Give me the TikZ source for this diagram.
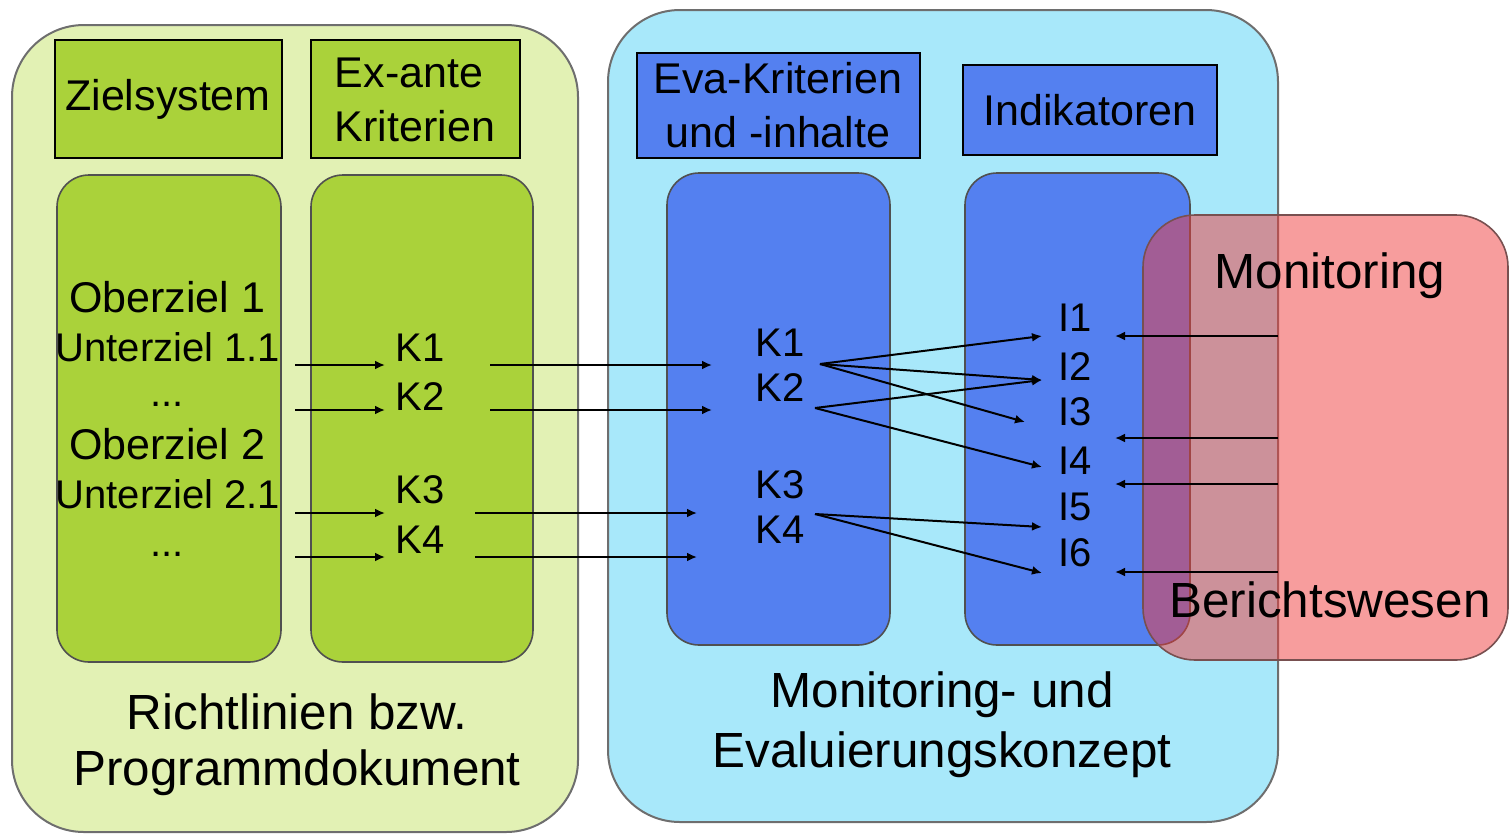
\documentclass[tikz,border=0pt]{standalone}
\usepackage{fontspec}
\setmainfont{Liberation Sans}
\usetikzlibrary{arrows.meta}

\definecolor{gruenhell}{RGB}{226,241,180}
\definecolor{gruen}{RGB}{170,210,58}
\definecolor{blauhell}{RGB}{168,232,250}
\definecolor{blau}{RGB}{84,128,240}
\definecolor{rot}{RGB}{240,60,60}

\tikzset{
  aussen/.style={draw={rgb,255:red,110;green,110;blue,110}, line width=1pt, rounded corners=36pt},
  innen/.style={draw={rgb,255:red,80;green,80;blue,80}, line width=0.8pt, rounded corners=16pt},
  kopf/.style={draw=black, line width=1.2pt},
  txt/.style={font=\fontsize{21.5}{25}\selectfont, text=black, inner sep=0pt},
  gross/.style={font=\fontsize{24.7}{29}\selectfont, text=black, inner sep=0pt},
  klein/.style={font=\fontsize{20}{24}\selectfont, text=black, inner sep=0pt},
  pfeil/.style={line width=1pt, -{Latex[length=5pt,width=4.5pt]}}
}

\begin{document}
\begin{tikzpicture}[x=0.5pt,y=0.5pt,yscale=-1]
\path[use as bounding box] (0,0) rectangle (1510,836);

%Shape: Rounded Rect (Richtlinien)
\draw [aussen, fill=gruenhell] (12,25) rectangle (578,832);
%Shape: Rounded Rect (inner green)
\draw [innen, fill=gruen] (57,175) rectangle (281,662);
\draw [innen, fill=gruen] (311,175) rectangle (533,662);
%Shape: Rectangle (headers green)
\draw [kopf, fill=gruen] (55,40) rectangle (282,158);
\draw [kopf, fill=gruen] (311,40) rectangle (520,158);

%Shape: Rounded Rect (Konzept)
\draw [aussen, fill=blauhell] (608,10) rectangle (1278,822);
%Shape: Rounded Rect (inner blue)
\draw [innen, fill=blau] (667,173) rectangle (890,645);
\draw [innen, fill=blau] (965,173) rectangle (1190,645);
%Shape: Rectangle (headers blue)
\draw [kopf, fill=blau] (637,53) rectangle (920,158);
\draw [kopf, fill=blau] (963,65) rectangle (1217,155);

% Text Node
\node [txt] (zielsystem) at (168,99) {Zielsystem};
\node [txt, align=left] (exante) at (415,100) {Ex-ante\\[2pt]Kriterien};
\node [txt, align=center] (evakrit) at (778,105) {Eva-Kriterien\\[2pt]und -inhalte};
\node [txt] (indikatoren) at (1090,110) {Indikatoren};

\node [txt] (ober1) at (167,297) {Oberziel 1};
\node [klein] (unter1) at (168,347) {Unterziel 1.1};
\node [klein] (dots1) at (167,404) {...};
\node [txt] (ober2) at (167,444) {Oberziel 2};
\node [klein] (unter2) at (168,494) {Unterziel 2.1};
\node [klein] (dots2) at (167,554) {...};

\node [klein] (ka1) at (420,348) {K1};
\node [klein] (ka2) at (420,397) {K2};
\node [klein] (ka3) at (420,490) {K3};
\node [klein] (ka4) at (420,540) {K4};

\node [klein] (kb1) at (780,343) {K1};
\node [klein] (kb2) at (780,388) {K2};
\node [klein] (kb3) at (780,485) {K3};
\node [klein] (kb4) at (780,530) {K4};

\node [klein] (i1) at (1075,318) {I1};
\node [klein] (i2) at (1075,367) {I2};
\node [klein] (i3) at (1075,412) {I3};
\node [klein] (i4) at (1075,461) {I4};
\node [klein] (i5) at (1075,507) {I5};
\node [klein] (i6) at (1075,553) {I6};

\node [gross, align=center] (richtlinien) at (297,745) {Richtlinien bzw.\\[-1pt]Programmdokument};
\node [gross, align=center] (konzept) at (942,725) {Monitoring- und\\[1pt]Evaluierungskonzept};

%Arrow ends
\coordinate (z1) at (295,365); \coordinate (z2) at (295,410);
\coordinate (z3) at (295,513); \coordinate (z4) at (295,557);
\coordinate (a1) at (385,365); \coordinate (a2) at (385,410);
\coordinate (a3) at (385,513); \coordinate (a4) at (385,557);
\coordinate (b1) at (490,365); \coordinate (b2) at (490,410);
\coordinate (b3) at (475,513); \coordinate (b4) at (475,557);
\coordinate (c1) at (712,365); \coordinate (c2) at (712,410);
\coordinate (c3) at (697,513); \coordinate (c4) at (697,557);
\coordinate (d1) at (820,364); \coordinate (d2) at (815,408);
\coordinate (d4) at (815,514);
\coordinate (e1) at (1042,336); \coordinate (e2) at (1042,380);
\coordinate (e3) at (1025,422); \coordinate (e4) at (1042,467);
\coordinate (e5) at (1042,527); \coordinate (e6) at (1042,573);

%Straight Lines
\foreach \n in {1,...,4} {
  \draw [pfeil] (z\n) -- (a\n);
  \draw [pfeil] (b\n) -- (c\n);
}
\draw [pfeil] (d1) -- (e1);
\draw [pfeil] (d1) -- (e2);
\draw [pfeil] (d1) -- (e3);
\draw [pfeil] (d2) -- (e2);
\draw [pfeil] (d2) -- (e4);
\draw [pfeil] (d4) -- (e5);
\draw [pfeil] (d4) -- (e6);

%Shape: Rounded Rect (Monitoring)
\draw [draw={rgb,255:red,120;green,80;blue,80}, line width=0.8pt, rounded corners=26pt, fill=rot, fill opacity=0.5] (1143,215) rectangle (1508,660);

\node [gross] (monitoring) at (1330,276) {Monitoring};
\node [gross] (bericht) at (1330,600) {Berichtswesen};

\coordinate (r1) at (1278,336); \coordinate (r2) at (1278,438);
\coordinate (r3) at (1278,484); \coordinate (r4) at (1278,572);
\coordinate (s1) at (1115,336); \coordinate (s2) at (1115,438);
\coordinate (s3) at (1115,484); \coordinate (s4) at (1115,572);
\foreach \n in {1,...,4}
  \draw [pfeil] (r\n) -- (s\n);

\end{tikzpicture}
\end{document}
